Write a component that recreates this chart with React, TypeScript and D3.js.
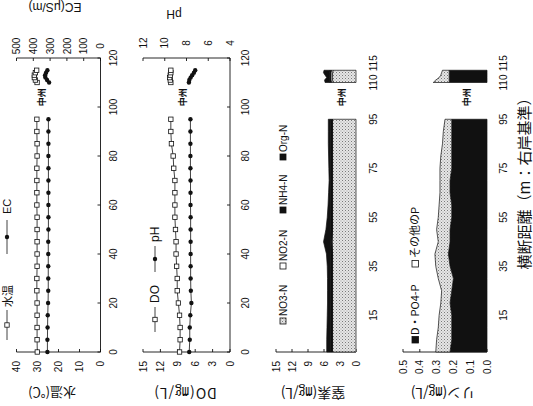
import React from 'react';
import * as d3 from 'd3';

// ---------------- data ----------------
const distMain = [0, 5, 10, 15, 20, 25, 30, 35, 40, 45, 50, 55, 60, 65, 70, 75, 80, 85, 90, 95];
const distIsland = [110, 111, 112, 113, 114, 115];

const distTicks = [0, 20, 40, 60, 80, 100, 120];
const distTicksNP = [15, 35, 55, 75, 95, 110, 115];

const tempTicks = [0, 10, 20, 30, 40];
const ecTicks = [0, 100, 200, 300, 400, 500];
const doTicks = [0, 3, 6, 9, 12, 15];
const phTicks = [4, 6, 8, 10, 12];
const nTicks = [0, 3, 6, 9, 12, 15];
const pTicks = [0, 0.1, 0.2, 0.3, 0.4, 0.5];

const waterTempMain = [30.1, 30.2, 30.2, 30.2, 30.2, 30.3, 30.3, 30.2, 30.2, 30.2, 30.2, 30.2, 30.3, 30.3, 30.3, 30.3, 30.2, 30.2, 30.3, 30.3];
const waterTempIsland = [30.2, 31.0, 31.5, 31.5, 31.0, 30.4];
const ecMain = [316, 316, 315, 314, 312, 311, 311, 311, 311, 311, 310, 310, 310, 310, 310, 310, 310, 310, 310, 310];
const ecIsland = [306, 318, 328, 330, 324, 316];

const doMain = [8.7, 8.6, 8.6, 8.7, 8.9, 9.1, 9.1, 9.2, 9.3, 9.3, 9.4, 9.5, 9.5, 9.5, 9.5, 9.7, 9.8, 10.1, 10.2, 10.2];
const doIsland = [10.2, 10.3, 10.4, 10.3, 10.2, 10.2];
const phMain = [7.75, 7.7, 7.7, 7.65, 7.55, 7.6, 7.62, 7.62, 7.62, 7.62, 7.62, 7.62, 7.63, 7.63, 7.63, 7.64, 7.64, 7.64, 7.64, 7.64];
const phIsland = [7.78, 7.74, 7.62, 7.48, 7.32, 7.2];

const no3Main = [4.4, 4.4, 4.4, 4.4, 4.4, 4.4, 4.4, 4.4, 4.4, 4.5, 4.4, 4.4, 4.4, 4.4, 4.4, 4.4, 4.4, 4.4, 4.4, 4.4];
const no2Main = [0.04, 0.04, 0.04, 0.04, 0.04, 0.04, 0.04, 0.04, 0.04, 0.04, 0.04, 0.04, 0.04, 0.04, 0.04, 0.04, 0.04, 0.04, 0.04, 0.04];
const nh4Main = [0.3, 0.3, 0.3, 0.3, 0.3, 0.3, 0.3, 0.3, 0.3, 0.3, 0.3, 0.3, 0.3, 0.3, 0.3, 0.3, 0.3, 0.3, 0.3, 0.3];
const orgMain = [0.75, 0.75, 0.7, 0.65, 0.6, 0.6, 0.6, 0.65, 0.8, 1.25, 0.9, 0.65, 0.5, 0.4, 0.3, 0.35, 0.4, 0.45, 0.45, 0.45];
const no3Island = [4.3, 4.4, 4.4, 4.4, 4.4, 4.3];
const no2Island = [0.3, 0.3, 0.3, 0.3, 0.3, 0.3];
const nh4Island = [0.3, 0.3, 0.3, 0.3, 0.3, 0.3];
const orgIsland = [0.9, 0.9, 0.5, 0.8, 1.1, 1.1];

const dpo4Main = [0.22, 0.21, 0.21, 0.21, 0.22, 0.21, 0.2, 0.22, 0.23, 0.22, 0.22, 0.21, 0.21, 0.22, 0.22, 0.21, 0.21, 0.21, 0.21, 0.21];
const otherPMain = [0.085, 0.09, 0.08, 0.075, 0.055, 0.06, 0.09, 0.085, 0.08, 0.07, 0.08, 0.08, 0.075, 0.06, 0.06, 0.07, 0.065, 0.055, 0.05, 0.04];
const dpo4Island = [0.225, 0.225, 0.225, 0.225, 0.225, 0.225];
const otherPIsland = [0.095, 0.08, 0.06, 0.05, 0.045, 0.04];

// ---------------- styling ----------------
const FF = "'Liberation Sans', Arial, 'Noto Sans CJK JP', sans-serif";
const FN = "'Liberation Sans Narrow', 'Arial Narrow', 'Liberation Sans', Arial, sans-serif";
const FJ = "'Noto Sans CJK JP', 'Liberation Sans', sans-serif";
const INK = '#111';

export default function App() {
  const x = d3.scaleLinear().domain([0, 120]).range([54, 348]);
  const [xl, xr] = x.range();
  const tl = 3;

  const y1L = d3.scaleLinear().domain([0, 40]).range([100.5, 16.5]);
  const y1R = d3.scaleLinear().domain([0, 500]).range([100.5, 16.5]);
  const y2L = d3.scaleLinear().domain([0, 15]).range([230, 143]);
  const y2R = d3.scaleLinear().domain([4, 12]).range([230, 143]);
  const y3 = d3.scaleLinear().domain([0, 15]).range([356, 276]);
  const y4 = d3.scaleLinear().domain([0, 0.5]).range([487, 403]);

  const path = (ds: number[], vs: number[], ys: any) =>
    d3.line<number>().x((_, i) => x(ds[i])).y((v) => ys(v))(vs) || '';

  const squares = (ds: number[], vs: number[], ys: any, key: string) =>
    vs.map((v, i) => (
      <rect key={key + i} x={x(ds[i]) - 2.2} y={ys(v) - 2.2} width={4.4} height={4.4}
        fill="#fff" stroke={INK} strokeWidth={0.8} />
    ));
  const dots = (ds: number[], vs: number[], ys: any, key: string) =>
    vs.map((v, i) => <circle key={key + i} cx={x(ds[i])} cy={ys(v)} r={2.2} fill={INK} />);

  const valueAxis = (ys: any, ticks: number[], ax: number, dir: number, labelX: number,
    anchor: string, fmt: (v: number) => string, key: string) => {
    const [r0, r1] = ys.range();
    return (
      <g key={key}>
        <line x1={ax} x2={ax} y1={r0} y2={r1} stroke={INK} strokeWidth={0.9} />
        {ticks.map((t) => (
          <g key={key + t}>
            <line x1={ax} x2={ax + dir * tl} y1={ys(t)} y2={ys(t)} stroke={INK} strokeWidth={0.9} />
            <text x={labelX} y={ys(t) + 3.6} fontSize={10} fontFamily={FN} textAnchor={anchor as any} fill={INK}>
              {fmt(t)}
            </text>
          </g>
        ))}
      </g>
    );
  };

  const distAxis = (yb: number, labelY: number, key: string) => (
    <g key={key}>
      <line x1={xl} x2={xr} y1={yb} y2={yb} stroke={INK} strokeWidth={0.9} />
      {distTicks.map((t) => (
        <g key={key + t}>
          <line x1={x(t)} x2={x(t)} y1={yb} y2={yb - tl} stroke={INK} strokeWidth={0.9} />
          <text x={x(t)} y={labelY} fontSize={10} fontFamily={FN} textAnchor="middle" fill={INK}>{t}</text>
        </g>
      ))}
    </g>
  );

  const distLabelsNP = (labelY: number, key: string) => (
    <g key={key}>
      {distTicksNP.map((t, i) => (
        <text key={key + t} x={x(t)} dx={i === distTicksNP.length - 1 ? -1 : 0} y={labelY} fontSize={10} fontFamily={FN}
          textAnchor={i === distTicksNP.length - 1 ? 'start' : 'middle'} fill={INK}>{t}</text>
      ))}
    </g>
  );

  const stackAreas = (ds: number[], layers: number[][], fills: string[], ys: any, key: string) => {
    const keys = layers.map((_, k) => 'k' + k);
    const rows = ds.map((d, i) => {
      const o: any = { d };
      layers.forEach((arr, k) => (o['k' + k] = arr[i]));
      return o;
    });
    const series = d3.stack<any>().keys(keys)(rows);
    const area = d3.area<any>().x((p) => x(p.data.d)).y0((p) => ys(p[0])).y1((p) => ys(p[1]));
    return series.map((s, k) => (
      <path key={key + k} d={area(s) || ''} fill={fills[k]} stroke={INK} strokeWidth={0.7} strokeLinejoin="round" />
    ));
  };

  const rotLabel = (tx: number, ty: number, text: string, size: number, family: string, key: string, ls = 0) => (
    <text key={key} transform={`translate(${tx},${ty}) rotate(-90)`} textAnchor="middle" fontSize={size}
      fontFamily={family} fill={INK} letterSpacing={ls}>{text}</text>
  );

  const nakasu = (d: number, yy: number, key: string) => (
    <text key={key} x={x(d)} y={yy + 3.2} textAnchor="middle" fontSize={9} fontWeight="bold" fontFamily={FJ} fill={INK}>中州</text>
  );

  return (
    <svg width={533} height={406} style={{ position: 'absolute', left: 0, top: 0, background: '#fff' }}>
      <defs>
        <pattern id="stip" width={3} height={3} patternUnits="userSpaceOnUse">
          <rect width={3} height={3} fill="#e6e6e6" />
          <rect x={0} y={0} width={1} height={1} fill="#7a7a7a" />
          <rect x={1.5} y={1.5} width={1} height={1} fill="#a0a0a0" />
        </pattern>
      </defs>
      <rect width={533} height={406} fill="#fff" />
      <g transform="translate(0,406) rotate(-90)">
        {/* ---------- Panel 1: 水温 / EC ---------- */}
        {valueAxis(y1L, tempTicks, xl, 1, 45, 'end', (v) => String(v), 'p1l')}
        {valueAxis(y1R, ecTicks, xr, -1, 360, 'middle', (v) => String(v), 'p1r')}
        {distAxis(y1L.range()[0], 116.5, 'p1b')}
        <path d={path(distMain, waterTempMain, y1L)} fill="none" stroke={INK} strokeWidth={0.8} />
        <path d={path(distMain, ecMain, y1R)} fill="none" stroke={INK} strokeWidth={0.8} />
        <path d={path(distIsland, waterTempIsland, y1L)} fill="none" stroke={INK} strokeWidth={0.8} />
        <path d={path(distIsland, ecIsland, y1R)} fill="none" stroke={INK} strokeWidth={0.8} />
        {squares(distMain, waterTempMain, y1L, 'wt')}
        {squares(distIsland, waterTempIsland, y1L, 'wti')}
        {dots(distMain, ecMain, y1R, 'ec')}
        {dots(distIsland, ecIsland, y1R, 'eci')}
        {nakasu(104, 42, 'n1')}
        {/* legend at the top edge */}
        <line x1={66} x2={96} y1={7} y2={7} stroke={INK} strokeWidth={0.8} />
        <rect x={78.8} y={4.8} width={4.4} height={4.4} fill="#fff" stroke={INK} strokeWidth={0.8} />
        <text x={99} y={11.5} fontSize={11} fontFamily={FJ} fill={INK}>水温</text>
        <line x1={152} x2={186} y1={7} y2={7} stroke={INK} strokeWidth={0.8} />
        <circle cx={169} cy={7} r={2.2} fill={INK} />
        <text x={192} y={11} fontSize={11} fontFamily={FF} fill={INK}>EC</text>
        {rotLabel(18, 52, '水温(℃)', 13, FJ, 't1')}
        {rotLabel(403, 55, 'EC(μS/m)', 12, FF, 't1r')}

        {/* ---------- Panel 2: DO / pH ---------- */}
        {valueAxis(y2L, doTicks, xl, 1, 45, 'end', (v) => String(v), 'p2l')}
        {valueAxis(y2R, phTicks, xr, -1, 363, 'middle', (v) => String(v), 'p2r')}
        {distAxis(y2L.range()[0], 248.5, 'p2b')}
        <path d={path(distMain, doMain, y2L)} fill="none" stroke={INK} strokeWidth={0.8} />
        <path d={path(distMain, phMain, y2R)} fill="none" stroke={INK} strokeWidth={0.8} />
        <path d={path(distIsland, doIsland, y2L)} fill="none" stroke={INK} strokeWidth={0.8} />
        <path d={path(distIsland, phIsland, y2R)} fill="none" stroke={INK} strokeWidth={0.8} />
        {squares(distMain, doMain, y2L, 'do')}
        {squares(distIsland, doIsland, y2L, 'doi')}
        {dots(distMain, phMain, y2R, 'ph')}
        {dots(distIsland, phIsland, y2R, 'phi')}
        {nakasu(104, 183, 'n2')}
        <line x1={74} x2={99} y1={155} y2={155} stroke={INK} strokeWidth={0.8} />
        <rect x={84.3} y={152.8} width={4.4} height={4.4} fill="#fff" stroke={INK} strokeWidth={0.8} />
        <text x={103} y={159} fontSize={12} fontFamily={FF} fill={INK}>DO</text>
        <line x1={134} x2={160} y1={155} y2={155} stroke={INK} strokeWidth={0.8} />
        <circle cx={147} cy={155} r={2.2} fill={INK} />
        <text x={164} y={159} fontSize={12} fontFamily={FF} fill={INK}>pH</text>
        {rotLabel(18, 185, 'DO(㎎/L)', 14, FJ, 't2', 1)}
        {rotLabel(396, 174, 'pH', 12, FF, 't2r')}

        {/* ---------- Panel 3: 窒素 ---------- */}
        {valueAxis(y3, nTicks, xl, 1, 45, 'end', (v) => String(v), 'p3l')}
        <line x1={xl} x2={x(0)} y1={y3(0)} y2={y3(0)} stroke={INK} strokeWidth={0.9} />
        {stackAreas(distMain, [no3Main, no2Main, nh4Main, orgMain], ['url(#stip)', '#fff', INK, INK], y3, 'nm')}
        {stackAreas(distIsland, [no3Island, no2Island, nh4Island, orgIsland], ['url(#stip)', '#fff', INK, INK], y3, 'ni')}
        {distLabelsNP(377, 'p3b')}
        {nakasu(104, y3(2.6), 'n3')}
        {[
          { label: 'NO3-N', fill: 'url(#stip)', x0: 82 },
          { label: 'NO2-N', fill: '#fff', x0: 137 },
          { label: 'NH4-N', fill: INK, x0: 193 },
          { label: 'Org-N', fill: INK, x0: 246 },
        ].map((it) => (
          <g key={it.label}>
            <rect x={it.x0} y={280} width={6} height={6} fill={it.fill} stroke={INK} strokeWidth={0.8} />
            <text x={it.x0 + 8} y={287} fontSize={10} fontFamily={FF} fill={INK}>{it.label}</text>
          </g>
        ))}
        {rotLabel(18, 313, '窒素(㎎/L)', 14, FJ, 't3')}

        {/* ---------- Panel 4: リン ---------- */}
        {valueAxis(y4, pTicks, xl, 1, 46, 'end', (v) => v.toFixed(1), 'p4l')}
        {stackAreas(distMain, [dpo4Main, otherPMain], [INK, 'url(#stip)'], y4, 'pm')}
        {stackAreas(distIsland, [dpo4Island, otherPIsland], [INK, 'url(#stip)'], y4, 'pi')}
        {distLabelsNP(507, 'p4b')}
        {nakasu(104, y4(0.12), 'n4')}
        <rect x={63} y={412} width={6.5} height={6.5} fill={INK} stroke={INK} strokeWidth={0.8} />
        <text x={71} y={419} fontSize={11} fontFamily={FJ} fill={INK}>D・PO4-P</text>
        <rect x={139} y={412} width={6.5} height={6.5} fill="#fff" stroke={INK} strokeWidth={0.8} />
        <text x={148} y={419} fontSize={11} fontFamily={FJ} fill={INK}>その他のP</text>
        {rotLabel(18, 443, 'リン(㎎/L)', 14, FJ, 't4')}

        {/* ---------- x title ---------- */}
        <text x={226} y={530} textAnchor="middle" fontSize={15} fontFamily={FJ} fill={INK}>横断距離（m：右岸基準）</text>
      </g>
    </svg>
  );
}
